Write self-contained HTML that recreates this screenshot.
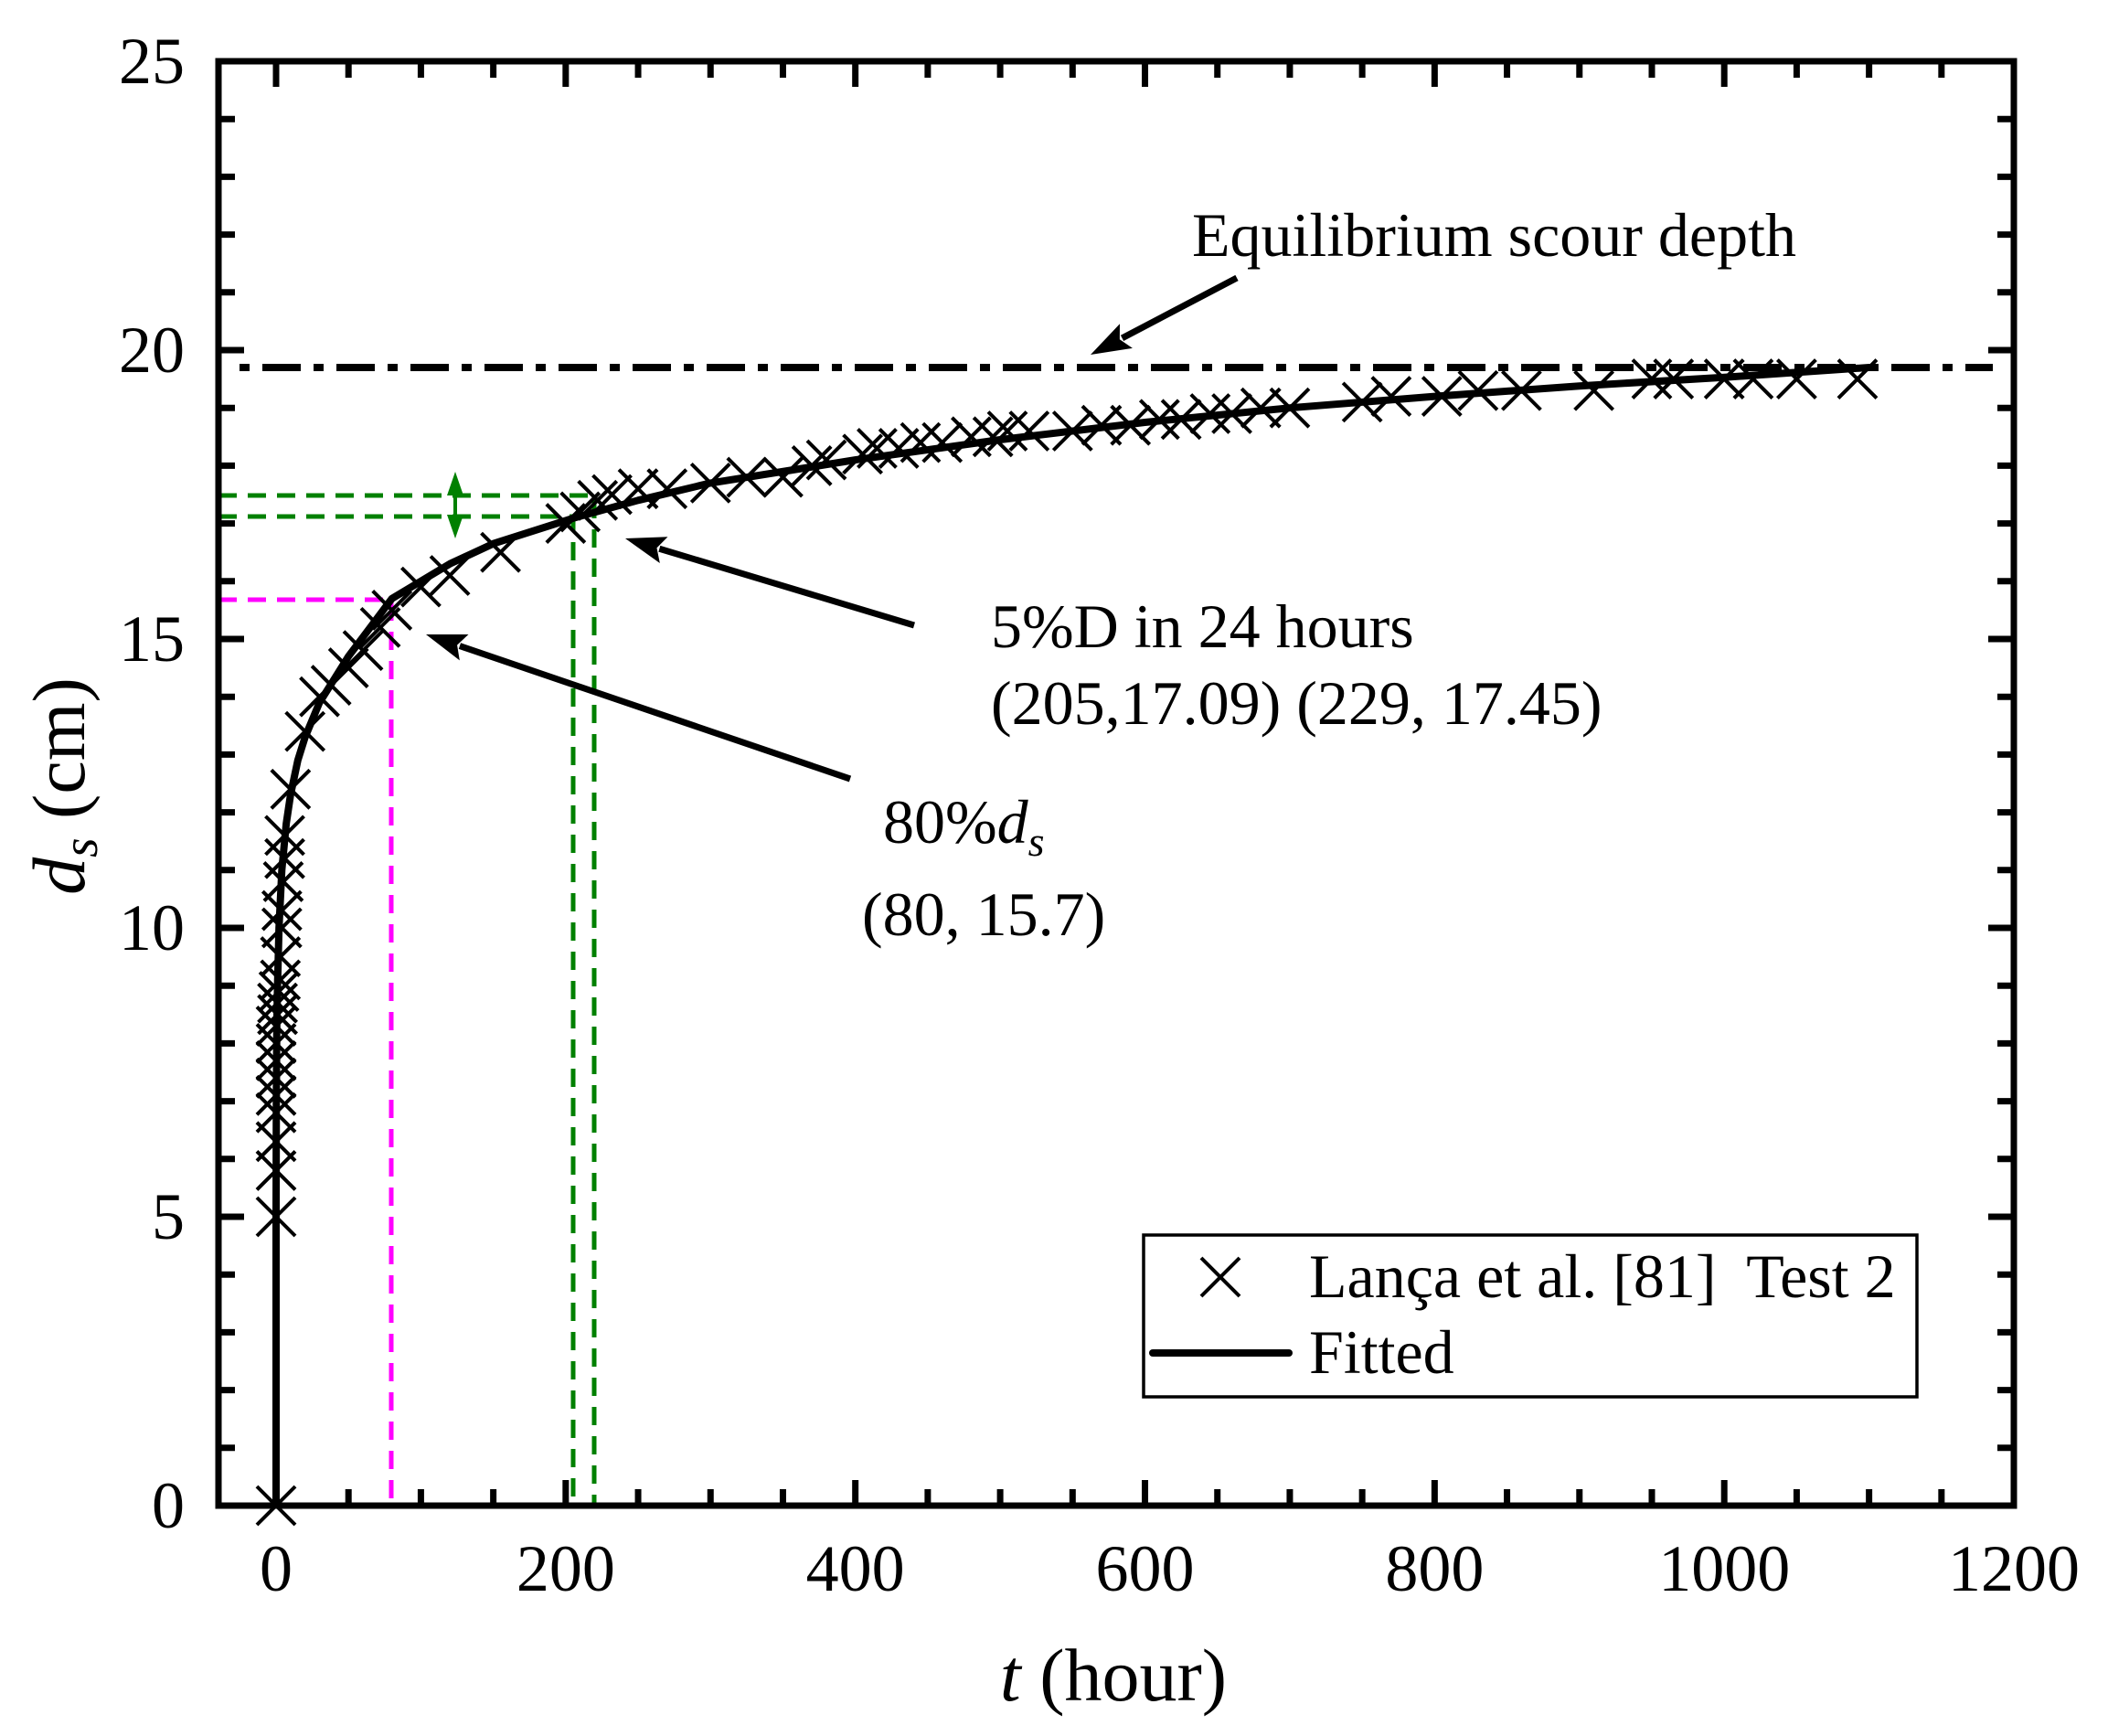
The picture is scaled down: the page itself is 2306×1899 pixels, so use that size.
<!DOCTYPE html>
<html><head><meta charset="utf-8"><style>
html,body{margin:0;padding:0;background:#fff;}
svg{display:block;}
text{font-family:"Liberation Serif","Times New Roman",serif;fill:#000;}
</style></head><body>
<svg id="s" width="2306" height="1899" viewBox="0 0 2306 1899" xmlns="http://www.w3.org/2000/svg">
<g id="plot"></g>
<text x="1304" y="280" font-size="68">Equilibrium scour depth</text>
<text x="1084" y="708" font-size="68">5%D in 24 hours</text>
<text x="1084" y="792" font-size="68">(205,17.09) (229, 17.45)</text>
<text x="966" y="922" font-size="68">80%<tspan font-style="italic">d</tspan><tspan font-style="italic" font-size="46" dy="14">s</tspan></text>
<text x="943" y="1023" font-size="68">(80, 15.7)</text>
<rect x="1251" y="1351" width="846" height="177" fill="none" stroke="#000" stroke-width="3.5"/>
<text x="1432" y="1419" font-size="68">Lança et al. [81]&#160; Test 2</text>
<text x="1432" y="1502" font-size="68">Fitted</text>
<line x1="1261" y1="1480" x2="1410" y2="1480" stroke="#000" stroke-width="8" stroke-linecap="round"/>
<text x="1218" y="1860" font-size="82" text-anchor="middle"><tspan font-style="italic">t</tspan> (hour)</text>
<text transform="translate(92,860) rotate(-90)" font-size="82" text-anchor="middle"><tspan font-style="italic">d</tspan><tspan font-style="italic" font-size="55" dy="14">s</tspan><tspan dy="-14"> (cm)</tspan></text>
</svg>
<script>
var NS="http://www.w3.org/2000/svg";
var g=document.getElementById('plot');
var L=239,R=2203,T=67,B=1647;
function X(t){return 302+t*1.5842;}
function Y(d){return B-d*(B-T)/25;}
function el(n,a){var e=document.createElementNS(NS,n);for(var k in a)e.setAttribute(k,a[k]);g.appendChild(e);return e;}
for(var t=0;t<=1200;t+=50){var x=X(t);if(x<L+2||x>R-2)continue;var maj=(t%200==0);var len=maj?28:18;
 el('line',{x1:x,y1:B,x2:x,y2:B-len,stroke:'#000','stroke-width':7});
 el('line',{x1:x,y1:T,x2:x,y2:T+len,stroke:'#000','stroke-width':7});}
for(var d=0;d<=25;d++){var y=Y(d);if(y<T+2||y>B-2)continue;var maj=(d%5==0);var len=maj?28:18;
 el('line',{x1:L,y1:y,x2:L+len,y2:y,stroke:'#000','stroke-width':7});
 el('line',{x1:R,y1:y,x2:R-len,y2:y,stroke:'#000','stroke-width':7});}
for(var t=0;t<=1200;t+=200){var e=el('text',{x:X(t),y:1740,'font-size':72,'text-anchor':'middle'});e.textContent=t;}
for(var d=0;d<=25;d+=5){var e=el('text',{x:202,y:Y(d)+24,'font-size':72,'text-anchor':'end'});e.textContent=d;}
el('polyline',{points:L+','+656+' '+428+','+656+' '+428+','+B,fill:'none',stroke:'#ff00ff','stroke-width':5,'stroke-dasharray':'20,12'});
el('polyline',{points:L+','+542+' '+650+','+542+' '+650+','+B,fill:'none',stroke:'#008000','stroke-width':5,'stroke-dasharray':'20,12'});
el('polyline',{points:L+','+565+' '+627+','+565+' '+627+','+B,fill:'none',stroke:'#008000','stroke-width':5,'stroke-dasharray':'20,12'});
el('line',{x1:498,y1:528,x2:498,y2:578,stroke:'#008000','stroke-width':4});
el('path',{d:'M498,516 L489,542 L507,542 Z',fill:'#008000'});
el('path',{d:'M498,589 L489,563 L507,563 Z',fill:'#008000'});
el('line',{x1:262,y1:402,x2:2180,y2:402,stroke:'#000','stroke-width':8,'stroke-dasharray':'11,14,42,14'});
var pts=[[0,0],[0,5],[0.2,7],[0.5,8.3],[1,9],[2,10],[4,11],[7,11.8],[10,12.3],[15,12.9],[20,13.3],[30,13.9],[40,14.3],[50,14.7],[65,15.2],[80,15.7],[100,16.0],[120,16.3],[150,16.65],[205,17.09],[250,17.4],[300,17.7],[400,18.1],[500,18.45],[600,18.75],[700,19.0],[800,19.2],[900,19.38],[1000,19.53],[1100,19.7]];
el('polyline',{points:pts.map(function(p){return X(p[0]).toFixed(1)+','+Y(p[1]).toFixed(1)}).join(' '),fill:'none',stroke:'#000','stroke-width':8,'stroke-linejoin':'round'});
var m=[[0,0],[0,5],[0,5.8],[0,6.3],[0,6.8],[0,7.1],[0,7.4],[0,7.7],[0,8],[0,8.3],[1,8.5],[1,8.7],[2,8.9],[3,9.1],[3,9.5],[4,10],[4,10.3],[5,10.8],[6,11.2],[6,11.6],[10,12.4],[20,13.4],[30,14],[38,14.2],[50,14.5],[60,14.8],[72,15.2],[80,15.5],[100,15.9],[120,16.1],[155,16.5],[200,17.0],[210,17.2],[222,17.4],[232,17.5],[250,17.6],[270,17.6],[300,17.7],[325,17.8],[350,17.8],[370,18.0],[380,18.1],[405,18.2],[415,18.3],[430,18.3],[445,18.4],[460,18.4],[480,18.5],[495,18.5],[505,18.6],[520,18.6],[550,18.6],[570,18.7],[590,18.7],[610,18.8],[625,18.8],[645,18.9],[660,18.9],[680,19.0],[700,19.0],[750,19.1],[770,19.2],[805,19.2],[830,19.3],[860,19.3],[910,19.3],[950,19.5],[965,19.5],[1000,19.5],[1020,19.5],[1050,19.5],[1092,19.5]];
function cross(cx,cy){var h=21;el('path',{d:'M'+(cx-h)+','+(cy-h)+'L'+(cx+h)+','+(cy+h)+'M'+(cx-h)+','+(cy+h)+'L'+(cx+h)+','+(cy-h),stroke:'#000','stroke-width':4,fill:'none'});}
m.forEach(function(p){cross(X(p[0]),Y(p[1]));});
cross(1335,1397);
function arrow(x1,y1,x2,y2){var dx=x2-x1,dy=y2-y1,l=Math.sqrt(dx*dx+dy*dy),ux=dx/l,uy=dy/l,hl=44,hw=15;
 var bx=x2-ux*hl,by=y2-uy*hl;
 el('line',{x1:x1,y1:y1,x2:bx+ux*5,y2:by+uy*5,stroke:'#000','stroke-width':7});
 el('path',{d:'M'+x2+','+y2+' L'+(bx-uy*hw)+','+(by+ux*hw)+' L'+(bx+ux*8)+','+(by+uy*8)+' L'+(bx+uy*hw)+','+(by-ux*hw)+' Z',fill:'#000'});}
arrow(1353,304,1193,388);
arrow(1000,684,684,589);
arrow(930,852,466,694);
el('rect',{x:L,y:T,width:R-L,height:B-T,fill:'none',stroke:'#000','stroke-width':7});
</script>
</body></html>
